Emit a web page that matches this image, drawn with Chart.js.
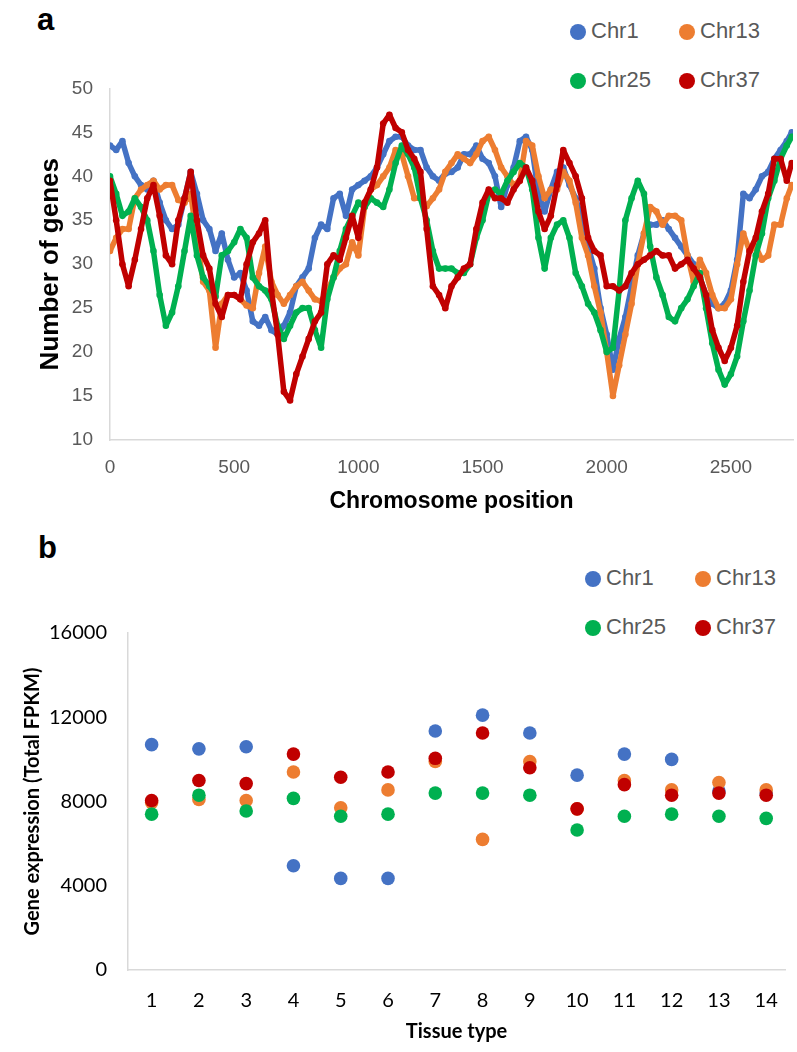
<!DOCTYPE html>
<html>
<head>
<meta charset="utf-8">
<script src="https://cdn.jsdelivr.net/npm/chart.js@4.4.1/dist/chart.umd.min.js"></script>
<style>
  body { margin: 0; background: #fff; }
  #page { position: relative; width: 797px; height: 1052px; overflow: hidden; }
  .box { position: absolute; left: 0; width: 797px; }
  .letter { position: absolute; font: bold 31px 'Liberation Sans', Arial, sans-serif; color: #000; }
  .leg { position: absolute; font: 22px 'Liberation Sans', Arial, sans-serif; color: #595959; line-height: 24px; white-space: nowrap; }
  .dot { display: inline-block; width: 16px; height: 16px; border-radius: 50%; margin-right: 5px; vertical-align: -2px; }
</style>
</head>
<body>
<div id="page">
  <div class="letter" style="left:37px;top:2px">a</div>
  <div class="leg" style="left:570px;top:19px"><span class="dot" style="background:#4472C4"></span>Chr1</div>
  <div class="leg" style="left:679px;top:19px"><span class="dot" style="background:#ED7D31"></span>Chr13</div>
  <div class="leg" style="left:570px;top:68px"><span class="dot" style="background:#00B050"></span>Chr25</div>
  <div class="leg" style="left:679px;top:68px"><span class="dot" style="background:#C00000"></span>Chr37</div>
  <div class="box" style="top:60px;height:460px"><canvas id="chartA"></canvas></div>

  <div class="letter" style="left:38px;top:530px">b</div>
  <div class="leg" style="left:585px;top:566px"><span class="dot" style="background:#4472C4"></span>Chr1</div>
  <div class="leg" style="left:695px;top:566px"><span class="dot" style="background:#ED7D31"></span>Chr13</div>
  <div class="leg" style="left:585px;top:615px"><span class="dot" style="background:#00B050"></span>Chr25</div>
  <div class="leg" style="left:695px;top:615px"><span class="dot" style="background:#C00000"></span>Chr37</div>
  <div class="box" style="top:600px;height:452px"><canvas id="chartB"></canvas></div>
</div>

<script>
// panel a: genes per window along the chromosome
const POSITIONS = [
  0, 25, 50, 75, 100, 125, 150, 175, 200, 225,
  250, 275, 300, 325, 350, 375, 400, 425, 450, 475,
  500, 525, 550, 575, 600, 625, 650, 675, 700, 725,
  750, 775, 800, 825, 850, 875, 900, 925, 950, 975,
  1000, 1025, 1050, 1075, 1100, 1125, 1150, 1175, 1200, 1225,
  1250, 1275, 1300, 1325, 1350, 1375, 1400, 1425, 1450, 1475,
  1500, 1525, 1550, 1575, 1600, 1625, 1650, 1675, 1700, 1725,
  1750, 1775, 1800, 1825, 1850, 1875, 1900, 1925, 1950, 1975,
  2000, 2025, 2050, 2075, 2100, 2125, 2150, 2175, 2200, 2225,
  2250, 2275, 2300, 2325, 2350, 2375, 2400, 2425, 2450, 2475,
  2500, 2525, 2550, 2575, 2600, 2625, 2650, 2675, 2700, 2725,
  2745
];
const CHR1_GENES = [
  43.5, 43, 44, 41.5, 40, 39, 38.5, 39.5, 37, 35,
  34, 34.5, 37.5, 40.5, 38, 35, 34, 31.5, 33.5, 30.5,
  28.5, 29, 27, 23.5, 23, 24, 22.5, 22, 23, 24.5,
  27.5, 28.5, 29.5, 33, 34.5, 34, 37.5, 38, 35.5, 38.5,
  39, 39.5, 40, 41, 42.5, 44, 44.5, 44.5, 43.5, 43,
  43, 41, 40, 39.5, 40.3, 40.5, 41, 42.5, 42.5, 43.5,
  42, 41.5, 40, 36.5, 39, 41, 44, 44.5, 43, 38,
  36, 38.5, 40.5, 41, 39, 37.5, 35, 32, 29.5, 25,
  22, 18, 21.5, 24, 27.5, 31, 33.5, 34.5, 34.5, 35,
  34, 33, 32, 31, 30, 28.5, 26.5, 25.5, 25, 25.5,
  27, 30.5, 38, 37.5, 38.5, 40, 40.5, 42, 43, 44,
  45
];
const CHR13_GENES = [
  31.5, 33, 34, 34, 37.5, 38.5, 39, 39.5, 38.5, 39,
  39, 37.3, 37, 38, 33, 28, 27, 20.5, 25.5, 26.5,
  26.5, 26, 25.3, 25, 29, 32, 28, 26.5, 25.5, 26.5,
  27.5, 28, 27, 26, 25.8, 27, 28.5, 29.5, 30, 32.5,
  31, 36.5, 38.5, 39, 40, 41, 43, 42.5, 40, 37.5,
  37.5, 36.6, 37.5, 38.5, 40.5, 41.5, 42.5, 42, 41.5, 42.5,
  44, 44.5, 43, 41, 40, 39, 39.5, 44, 43.5, 40,
  37.5, 38.5, 38.5, 40.5, 39.5, 37, 33, 31, 27.5, 24.5,
  20, 15, 18.5, 22, 25.5, 30, 33.5, 36.5, 36, 34.5,
  35.5, 35.5, 35, 31, 28, 30.5, 29, 26.5, 25, 25,
  26, 30, 33.5, 31.5, 32, 30.5, 31, 34.5, 34.5, 37.5,
  39
];
const CHR25_GENES = [
  40, 38, 35.5, 36, 37.5, 36.5, 35, 31.5, 26.5, 23,
  24.5, 27.5, 31.5, 35.5, 31, 28.5, 27.5, 26.3, 31, 31.5,
  32.5, 34, 33, 28.5, 27.5, 27, 26, 23, 21.5, 23,
  24.5, 25, 25, 22.5, 20.5, 26, 28.5, 31.5, 34, 35.5,
  37, 36.5, 37.5, 37, 36.5, 38.5, 41.5, 43.5, 42.5, 41,
  37.5, 35, 31.5, 29.5, 29.5, 29.5, 29, 29, 30, 33,
  35, 38, 38.5, 38, 39.5, 40.5, 41.5, 41, 38.5, 33,
  29.5, 33, 34.5, 35, 33, 29, 27.5, 25.5, 24.5, 22.5,
  20, 20.5, 27, 35, 37.5, 39.5, 38, 32, 28.5, 26.5,
  24, 23.5, 25, 26, 27.5, 29, 25, 21, 18, 16.3,
  17.5, 19.5, 23.5, 27, 31, 33.5, 37.5, 39.5, 42, 43.5,
  44.5
];
const CHR37_GENES = [
  39.5, 35, 30, 27.5, 30.5, 34, 37.5, 39, 35.5, 31,
  30, 35, 37.5, 40.5, 35, 31, 29.5, 25.5, 24, 26.5,
  26.5, 26, 30, 32.5, 33.5, 35, 27, 22, 15.5, 14.5,
  17.5, 19.5, 21.5, 23.5, 24.5, 30, 31, 30.5, 33, 35.5,
  33, 37, 38.5, 41, 46, 47, 45.5, 45, 43, 42,
  40.5, 34, 27.5, 26.5, 25, 27.5, 28.5, 29.5, 30, 34,
  37, 38.5, 37.5, 37.5, 37, 38.5, 39.5, 41, 39.5, 36,
  34, 35.5, 39, 43, 41.5, 40, 37.5, 33, 31.5, 31,
  27.5, 27.5, 27, 27.5, 29, 30, 30.5, 31, 31.5, 31,
  31, 29.5, 30, 30.5, 29.5, 28.5, 26.5, 22.5, 20.5, 19,
  20.5, 23, 28, 31.5, 33, 36, 38, 42, 42, 39.5,
  41.5
];
const POSITION_TICKS = [0, 500, 1000, 1500, 2000, 2500];

// panel b: total expression per tissue
const TISSUES = [1, 2, 3, 4, 5, 6, 7, 8, 9, 10, 11, 12, 13, 14];
const CHR1_FPKM  = [10700, 10500, 10600, 4950, 4350, 4350, 11350, 12100, 11250, 9250, 10250, 10000, 8500, 8400];
const CHR13_FPKM = [7950, 8100, 8050, 9400, 7700, 8550, 9900, 6200, 9900, 7650, 9000, 8550, 8900, 8550];
const CHR25_FPKM = [7400, 8300, 7550, 8150, 7300, 7400, 8400, 8400, 8300, 6650, 7300, 7400, 7300, 7200];
const CHR37_FPKM = [8050, 9000, 8850, 10250, 9150, 9400, 10050, 11250, 9600, 7650, 8800, 8300, 8400, 8300];

const COLORS = { chr1: '#4472C4', chr13: '#ED7D31', chr25: '#00B050', chr37: '#C00000' };
const tickGrey = '#595959';
const axisGrey = '#D9D9D9';

function toPoints(xs, ys) {
  return xs.map((x, i) => ({ x: x, y: ys[i] }));
}

function geneSet(label, values, color) {
  return {
    label: label,
    data: toPoints(POSITIONS, values),
    showLine: true,
    borderColor: color,
    backgroundColor: color,
    borderWidth: 5.5,
    borderJoinStyle: 'round',
    borderCapStyle: 'round',
    pointRadius: 3.3,
    pointBorderWidth: 0
  };
}

function fpkmSet(label, values, color) {
  return {
    label: label,
    data: toPoints(TISSUES, values),
    borderColor: color,
    backgroundColor: color,
    pointRadius: 6.8,
    pointBorderWidth: 0
  };
}

// plain numbers, no thousands separator
const plain = value => String(value);

const sans = "'Liberation Sans', Arial, sans-serif";

// first dataset is painted last, so Chr37 sits on top as in the original
new Chart(document.getElementById('chartA'), {
  type: 'scatter',
  data: {
    datasets: [
      geneSet('Chr37', CHR37_GENES, COLORS.chr37),
      geneSet('Chr25', CHR25_GENES, COLORS.chr25),
      geneSet('Chr13', CHR13_GENES, COLORS.chr13),
      geneSet('Chr1', CHR1_GENES, COLORS.chr1)
    ]
  },
  options: {
    responsive: true,
    maintainAspectRatio: false,
    animation: false,
    layout: { padding: { top: 28, right: 2, left: 0, bottom: 0 } },
    plugins: { legend: { display: false }, tooltip: { enabled: false } },
    scales: {
      x: {
        type: 'linear',
        min: 0,
        max: 2750,
        afterBuildTicks: scale => { scale.ticks = POSITION_TICKS.map(v => ({ value: v })); },
        afterFit: scale => { scale.height = 80; },
        grid: { display: false, drawTicks: false },
        border: { display: true, color: axisGrey, width: 1.5 },
        ticks: { color: tickGrey, font: { family: sans, size: 19 }, padding: 16, maxRotation: 0, callback: plain },
        title: { display: true, text: 'Chromosome position', color: '#000',
                 font: { family: sans, size: 23, weight: 'bold' }, padding: { bottom: 5 } }
      },
      y: {
        min: 10,
        max: 50,
        afterFit: scale => { scale.width = 110; },
        grid: { display: false, drawTicks: false },
        border: { display: true, color: axisGrey, width: 1.5 },
        ticks: { stepSize: 5, color: tickGrey, font: { family: sans, size: 19 }, padding: 17, callback: plain },
        title: { display: true, text: 'Number of genes', color: '#000',
                 font: { family: sans, size: 26, weight: 'bold' }, padding: { top: 35 } }
      }
    }
  }
});

const calib = "Lato, 'Open Sans', sans-serif";

new Chart(document.getElementById('chartB'), {
  type: 'scatter',
  data: {
    datasets: [
      fpkmSet('Chr37', CHR37_FPKM, COLORS.chr37),
      fpkmSet('Chr25', CHR25_FPKM, COLORS.chr25),
      fpkmSet('Chr13', CHR13_FPKM, COLORS.chr13),
      fpkmSet('Chr1', CHR1_FPKM, COLORS.chr1)
    ]
  },
  options: {
    responsive: true,
    maintainAspectRatio: false,
    animation: false,
    layout: { padding: { top: 32, right: 0, left: 0, bottom: 0 } },
    plugins: { legend: { display: false }, tooltip: { enabled: false } },
    scales: {
      x: {
        type: 'linear',
        min: 0.5,
        max: 14.4,
        afterBuildTicks: scale => { scale.ticks = TISSUES.map(v => ({ value: v })); },
        afterFit: scale => { scale.height = 82; },
        grid: { display: false, drawTicks: false },
        border: { display: true, color: axisGrey, width: 1.5 },
        ticks: { color: '#000', font: { family: calib, size: 20 }, padding: 19, maxRotation: 0, callback: plain },
        title: { display: true, text: 'Tissue type', color: '#000',
                 font: { family: calib, size: 20, weight: 'bold' }, padding: { bottom: 8 } }
      },
      y: {
        min: 0,
        max: 16000,
        afterFit: scale => { scale.width = 128; },
        grid: { display: false, drawTicks: false },
        border: { display: true, color: axisGrey, width: 1.5 },
        ticks: { stepSize: 4000, color: '#000', font: { family: calib, size: 20 }, padding: 21, callback: plain },
        title: { display: true, text: 'Gene expression (Total FPKM)', color: '#000',
                 font: { family: calib, size: 20, weight: 'bold' }, padding: { top: 21 } }
      }
    }
  }
});
</script>
</body>
</html>
